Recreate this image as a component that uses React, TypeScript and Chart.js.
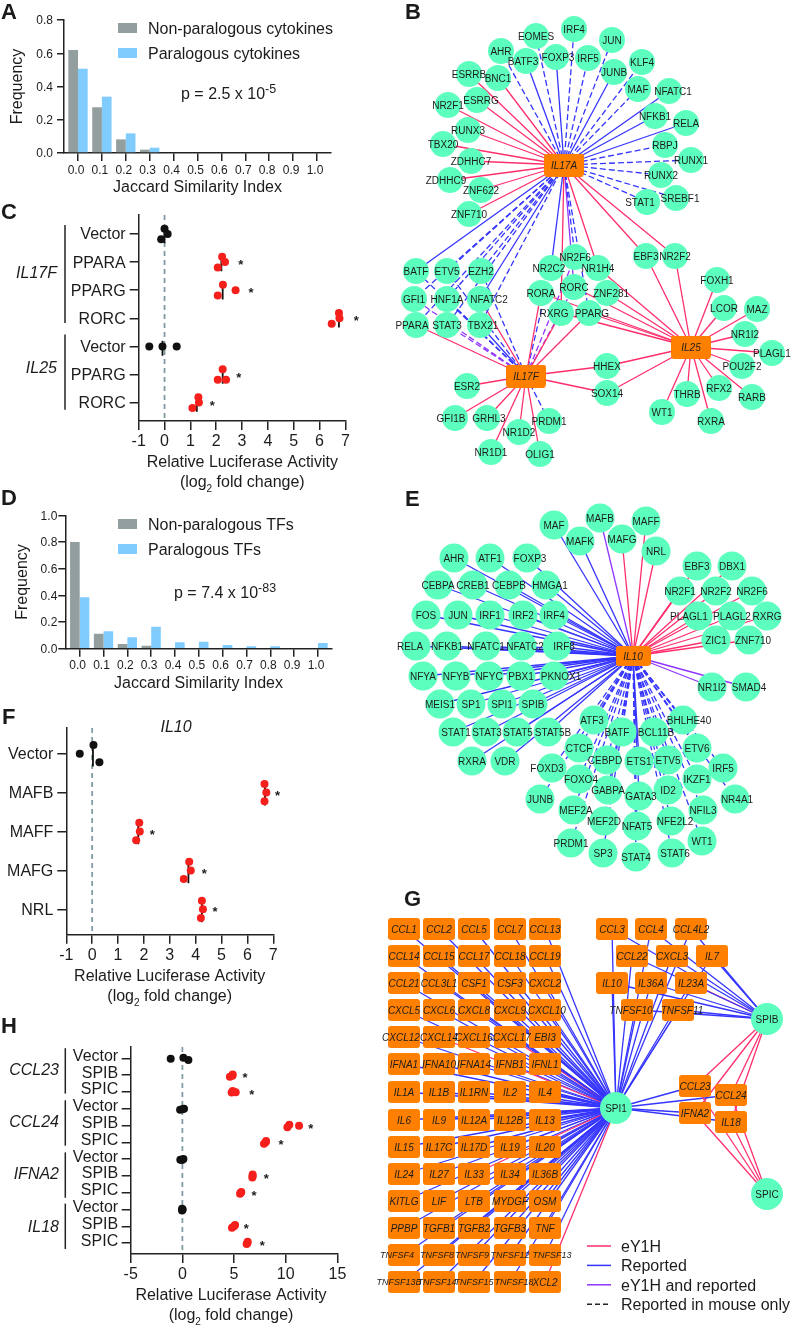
import { useEffect, useRef } from 'react';
import { Chart, registerables } from 'chart.js';

Chart.register(...registerables);

const FONT = '"Liberation Sans", Arial, Helvetica, sans-serif';
const INK = '#1C1C1C';
const AXIS = '#222222';
const GRAY = '#939F9F';
const SKY = '#80CCFF';
const GREEN = '#5CFFBE';
const ORANGE = '#FF8000';
const PINK = '#FF2E6C';
const BLUE = '#3535FF';
const PURPLE = '#9035FF';
const RED = '#F5201C';
const DASHLINE = '#7F9CA3';

Chart.defaults.font.family = FONT;
Chart.defaults.color = INK;

// ---------- histogram data ----------
const jaccardBins = [0, 0.1, 0.2, 0.3, 0.4, 0.5, 0.6, 0.7, 0.8, 0.9, 1.0];
const cytokineNonParalogous = [0.62, 0.275, 0.082, 0.02, 0, 0, 0, 0, 0, 0, 0];
const cytokineParalogous = [0.507, 0.339, 0.118, 0.032, 0, 0, 0, 0, 0, 0, 0];
const tfNonParalogous = [0.8, 0.113, 0.035, 0.022, 0, 0, 0, 0, 0, 0, 0];
const tfParalogous = [0.385, 0.13, 0.085, 0.165, 0.048, 0.053, 0.028, 0.018, 0.018, 0, 0.043];

// ---------- luciferase data ----------
const cRows = ['Vector', 'PPARA', 'PPARG', 'RORC', 'Vector', 'PPARG', 'RORC'];
const cValues = [[0, 0.12, -0.13], [2.23, 2.34, 2.06], [2.26, 2.75, 2.06], [6.75, 6.77, 6.47], [-0.59, -0.08, 0.47], [2.25, 2.38, 2.06], [1.31, 1.33, 1.08]];
const cJitter = [[-0.19, 0, 0.19], [-0.19, 0, 0.19], [-0.19, 0, 0.19], [-0.19, 0, 0.19], [0, 0, 0], [-0.19, 0.19, 0.19], [-0.19, 0, 0.19]];
const cMeans = [0, 2.2, 2.25, 6.75, -0.08, 2.25, 1.25];
const cStarRows = [1, 2, 3, 5, 6];
const cStarX = [2.95, 3.35, 7.42, 2.87, 1.85];

const fRows = ['Vector', 'MAFB', 'MAFF', 'MAFG', 'NRL'];
const fValues = [[-0.48, 0.05, 0.28], [6.66, 6.73, 6.66], [1.82, 1.84, 1.7], [3.75, 3.81, 3.54], [4.24, 4.28, 4.2]];
const fJitter = [[0, -0.223, 0.223], [-0.223, 0, 0.223], [-0.223, 0, 0.223], [-0.223, 0, 0.223], [-0.223, 0, 0.223]];
const fMeans = [0.03, 6.68, 1.78, 3.72, 4.24];
const fStarRows = [1, 2, 3, 4];
const fStarX = [7.16, 2.32, 4.33, 4.75];

const hRows = ['Vector', 'SPIB', 'SPIC', 'Vector', 'SPIB', 'SPIC', 'Vector', 'SPIB', 'SPIC', 'Vector', 'SPIB', 'SPIC'];
const hValues = [[-1.13, 0.1, 0.58], [4.6, 4.87, 4.84], [4.77, 5.16, 4.87], [-0.22, 0.16, 0], [10.16, 10.35, 11.29], [7.9, 8.06, 8.1], [-0.2, 0.1, -0.03], [6.77, 6.8, 6.8], [5.58, 5.65, 5.7], [-0.03, 0.03, -0.03], [4.8, 5, 5.1], [6.22, 6.29, 6.32]];
const hJitter = [[0.02, -0.04, 0.1], [0.1, -0.04, 0.04], [0.04, 0.02, -0.06], [0.06, 0, 0.04], [0.1, -0.04, 0.02], [0.08, 0, -0.08], [0.04, 0, 0.06], [0.1, 0, -0.08], [0.06, 0, -0.04], [0.06, 0, -0.04], [0.08, 0, -0.08], [0.06, 0, -0.08]];
const hStarRows = [1, 2, 4, 5, 7, 8, 10, 11];
const hStarX = [6.06, 6.71, 12.42, 9.55, 8.13, 6.94, 6.19, 7.74];

// ---------- network B ----------
type Node = [string, number, number];
const bTargets: Node[] = [
  ['IRF4', 574, 29], ['EOMES', 536, 36], ['AHR', 501, 51], ['JUN', 612, 40], ['BATF3', 526, 61], ['FOXP3', 556, 57], ['IRF5', 588, 58], ['KLF4', 642, 62], ['JUNB', 614, 72],
  ['ESRRB', 469, 74], ['BNC1', 498, 78], ['MAF', 638, 89], ['NFATC1', 669, 91], ['ESRRG', 477, 100], ['NR2F1', 448, 105], ['NFKB1', 655, 116], ['RELA', 686, 123], ['RUNX3', 468, 130],
  ['RBPJ', 665, 145], ['TBX20', 443, 144], ['ZDHHC7', 471, 161], ['RUNX1', 691, 160], ['RUNX2', 661, 175], ['ZDHHC9', 450, 180], ['ZNF622', 481, 190], ['SREBF1', 676, 198], ['STAT1', 647, 202], ['ZNF710', 469, 214],
  ['BATF', 416, 271], ['ETV5', 447, 271], ['EZH2', 481, 271], ['GFI1', 414, 299], ['HNF1A', 447, 299], ['NFATC2', 480, 299], ['PPARA', 416, 325], ['STAT3', 447, 325], ['TBX21', 480, 325],
  ['NR2F6', 575, 257], ['NR2C2', 551, 268], ['NR1H4', 598, 268], ['RORC', 574, 287], ['RORA', 541, 293], ['ZNF281', 607, 293], ['RXRG', 561, 313], ['PPARG', 589, 313], ['EBF3', 646, 256], ['NR2F2', 675, 256],
  ['FOXH1', 717, 280], ['LCOR', 724, 308], ['MAZ', 757, 309], ['NR1I2', 745, 334], ['PLAGL1', 772, 353], ['POU2F2', 742, 366], ['RARB', 752, 397], ['RFX2', 719, 388], ['THRB', 687, 394], ['WT1', 662, 412], ['RXRA', 711, 421],
  ['HHEX', 607, 366], ['SOX14', 607, 393], ['ESR2', 467, 386], ['GFI1B', 455, 418], ['GRHL3', 487, 418], ['PRDM1', 549, 421], ['NR1D2', 519, 432], ['NR1D1', 491, 452], ['OLIG1', 540, 454],
];
const bHubs: Node[] = [['IL17A', 564, 165], ['IL17F', 526, 376], ['IL25', 691, 347]];
const bLinks: [string, string, string][] = [
  ['IL17A', 'P', 'ESRRB BNC1 ESRRG NR2F1 RUNX3 TBX20 ZDHHC7 ZDHHC9 ZNF622 ZNF710 RXRG NR1H4 EBF3 NR2F2'],
  ['IL17A', 'B', 'BATF3 FOXP3 JUNB NFATC1 NFKB1 RELA BATF NFATC2 NR2C2'],
  ['IL17A', 'D', 'IRF4 EOMES AHR JUN IRF5 KLF4 MAF RBPJ RUNX1 RUNX2 SREBF1 STAT1 ETV5 EZH2 GFI1 HNF1A PPARA STAT3 TBX21 NR2F6 PPARG'],
  ['IL17A', 'V', 'RORC'],
  ['IL17F', 'P', 'PPARA NFATC2 RORA RXRG PPARG HHEX SOX14 ESR2 GFI1B GRHL3 NR1D1 NR1D2 OLIG1'],
  ['IL17F', 'B', 'TBX21'],
  ['IL17F', 'D', 'BATF ETV5 EZH2 HNF1A NR2C2 PRDM1'],
  ['IL17F', 'W', 'GFI1 STAT3 RORC NR2F6'],
  ['IL25', 'P', 'NR1H4 ZNF281 RORC RORA RXRG PPARG EBF3 NR2F2 HHEX SOX14 FOXH1 LCOR MAZ NR1I2 PLAGL1 POU2F2 RARB RFX2 THRB WT1 RXRA'],
];
const bLabelShift: Record<string, number> = { NFATC2: 9, PPARA: -4, ESRRG: 4, BATF3: -3, ZDHHC9: -4, SREBF1: 4, STAT1: -7, NFATC1: 4, FOXP3: 2, NR2C2: -2, RXRG: -7, PPARG: 3, ZNF281: 4, TBX21: 3, GRHL3: 2, GFI1B: -4 };

// ---------- network E ----------
const eTargets: Node[] = [
  ['MAF', 554, 525], ['MAFB', 600, 518], ['MAFF', 646, 521], ['MAFK', 580, 541], ['MAFG', 622, 539], ['NRL', 656, 551], ['EBF3', 697, 566], ['DBX1', 732, 566],
  ['AHR', 454, 558], ['ATF1', 490, 558], ['FOXP3', 527, 558], ['CEBPA', 438, 585], ['CREB1', 473, 585], ['CEBPB', 509, 585], ['HMGA1', 546, 585],
  ['NR2F1', 680, 591], ['NR2F2', 716, 591], ['NR2F6', 752, 591], ['FOS', 426, 615], ['JUN', 458, 615], ['IRF1', 490, 615], ['IRF2', 523, 615], ['IRF4', 554, 615],
  ['PLAGL1', 698, 616], ['PLAGL2', 732, 616], ['RXRG', 767, 616], ['RELA', 416, 646], ['NFKB1', 447, 646], ['NFATC1', 486, 646], ['NFATC2', 522, 646], ['IRF8', 557, 646],
  ['ZIC1', 716, 640], ['ZNF710', 749, 640], ['NFYA', 423, 676], ['NFYB', 456, 676], ['NFYC', 489, 676], ['PBX1', 521, 676], ['PKNOX1', 554, 676], ['NR1I2', 712, 687], ['SMAD4', 746, 687],
  ['MEIS1', 440, 704], ['SP1', 471, 704], ['SPI1', 502, 704], ['SPIB', 533, 704], ['ATF3', 594, 720], ['BHLHE40', 683, 720], ['STAT1', 453, 732], ['STAT3', 486, 732], ['STAT5', 517, 732], ['STAT5B', 548, 732],
  ['BATF', 622, 732], ['BCL11B', 654, 732], ['CTCF', 579, 748], ['ETV6', 697, 748], ['RXRA', 472, 761], ['VDR', 505, 761], ['CEBPD', 607, 760], ['ETS1', 639, 761], ['ETV5', 668, 760],
  ['FOXD3', 552, 768], ['IRF5', 723, 768], ['IKZF1', 697, 779], ['FOXO4', 579, 779], ['GABPA', 608, 790], ['GATA3', 639, 796], ['ID2', 668, 790], ['JUNB', 540, 799], ['NR4A1', 735, 799],
  ['MEF2A', 573, 810], ['NFIL3', 703, 810], ['MEF2D', 604, 821], ['NFE2L2', 671, 821], ['NFAT5', 637, 826], ['WT1', 702, 841], ['PRDM1', 571, 843], ['SP3', 603, 853], ['STAT4', 636, 857], ['STAT6', 672, 853],
];
const eHubs: Node[] = [['IL10', 633, 656]];
const eLinks: [string, string, string][] = [
  ['IL10', 'P', 'MAFG MAFF NRL EBF3 DBX1 NR2F1 NR2F2 NR2F6 PLAGL1 PLAGL2 RXRG ZIC1 ZNF710'],
  ['IL10', 'V', 'MAFB NR1I2 SMAD4'],
  ['IL10', 'B', 'MAF MAFK AHR ATF1 FOXP3 CEBPA CREB1 CEBPB HMGA1 FOS JUN IRF1 IRF2 IRF4 RELA NFKB1 NFATC1 NFATC2 IRF8 NFYA NFYB NFYC PBX1 PKNOX1 MEIS1 SP1 SPI1 SPIB STAT1 STAT3 STAT5 STAT5B RXRA VDR ETS1 GATA3'],
  ['IL10', 'D', 'ATF3 BATF BCL11B BHLHE40 CTCF CEBPD ETV5 ETV6 FOXD3 IRF5 IKZF1 FOXO4 GABPA ID2 JUNB NR4A1 MEF2A NFIL3 MEF2D NFE2L2 NFAT5 WT1 PRDM1 SP3 STAT4 STAT6'],
];
const eLabelShift: Record<string, number> = { BHLHE40: 6, PLAGL1: -9, FOXP3: 3, HMGA1: 4, RELA: -6, NFATC2: 3, IRF8: 7, PKNOX1: 7, ZNF710: 4, SMAD4: 3, STAT1: 3, STAT3: 1, STAT5: 1, STAT5B: 5, BCL11B: 2, BATF: -5, CEBPD: -2, FOXD3: -5, FOXO4: 2, MEF2A: 3, NFE2L2: 4, GATA3: 2, STAT6: 3, ATF3: -2, NR4A1: 2 };

// ---------- network G ----------
const gGridColumns = [404, 439, 474, 510, 545];
const gGridRows = [929, 956, 983, 1010, 1037, 1064, 1092, 1120, 1147, 1174, 1201, 1228, 1255, 1282];
const gGridNames = [
  ['CCL1', 'CCL2', 'CCL5', 'CCL7', 'CCL13'],
  ['CCL14', 'CCL15', 'CCL17', 'CCL18', 'CCL19'],
  ['CCL21', 'CCL3L1', 'CSF1', 'CSF3', 'CXCL2'],
  ['CXCL5', 'CXCL6', 'CXCL8', 'CXCL9', 'CXCL10'],
  ['CXCL12', 'CXCL14', 'CXCL16', 'CXCL17', 'EBI3'],
  ['IFNA1', 'IFNA10', 'IFNA14', 'IFNB1', 'IFNL1'],
  ['IL1A', 'IL1B', 'IL1RN', 'IL2', 'IL4'],
  ['IL6', 'IL9', 'IL12A', 'IL12B', 'IL13'],
  ['IL15', 'IL17C', 'IL17D', 'IL19', 'IL20'],
  ['IL24', 'IL27', 'IL33', 'IL34', 'IL36B'],
  ['KITLG', 'LIF', 'LTB', 'MYDGF', 'OSM'],
  ['PPBP', 'TGFB1', 'TGFB2', 'TGFB3', 'TNF'],
  ['TNFSF4', 'TNFSF8', 'TNFSF9', 'TNFSF12', 'TNFSF13'],
  ['TNFSF13B', 'TNFSF14', 'TNFSF15', 'TNFSF18', 'XCL2'],
];
const gPinkToSpi1 = ['CXCL14', 'CXCL17', 'IL33', 'XCL2'];
const gUpper: Node[] = [
  ['CCL3', 612, 929], ['CCL4', 651, 929], ['CCL4L2', 691, 929], ['CCL22', 632, 956], ['CXCL3', 672, 956], ['IL7', 712, 956],
  ['IL10', 612, 983], ['IL36A', 651, 983], ['IL23A', 691, 983], ['TNFSF10', 637, 1010], ['TNFSF11', 678, 1010],
];
const gLower: Node[] = [['CCL23', 695, 1086], ['CCL24', 731, 1095], ['IFNA2', 695, 1113], ['IL18', 731, 1122]];
const gFactors: Node[] = [['SPI1', 616, 1108], ['SPIB', 767, 1019], ['SPIC', 767, 1194]];
const gLabelShift: Record<string, number> = { TNFSF4: -7, TNFSF8: -2, TNFSF9: -2, TNFSF13: 7, TNFSF13B: -5, TNFSF14: -2, TNFSF18: 4, CXCL12: -3, CXCL17: 2, CXCL10: 2, TNFSF10: -6, TNFSF11: 4 };

// ---------- legends and captions ----------
const networkLegend: [string, string, number[]][] = [
  ['eY1H', PINK, []],
  ['Reported', BLUE, []],
  ['eY1H and reported', PURPLE, []],
  ['Reported in mouse only', '#222222', [5, 3]],
];
const panelLetters: [string, number, number][] = [['A', 1, 11], ['B', 405, 11], ['C', 1, 211], ['D', 1, 497], ['E', 405, 498], ['F', 2, 716], ['G', 404, 898], ['H', 1, 1025]];

const edgeStyle: Record<string, { color: string; dash: number[] }> = {
  P: { color: PINK, dash: [] },
  B: { color: BLUE, dash: [] },
  D: { color: BLUE, dash: [6, 3] },
  V: { color: PURPLE, dash: [] },
  W: { color: PURPLE, dash: [6, 3] },
};

function text(ctx: CanvasRenderingContext2D, s: string, x: number, y: number, font: string, align: CanvasTextAlign = 'left', color = INK) {
  const m = /([\d.]+)px/.exec(font);
  const size = m ? parseFloat(m[1]) : 16;
  ctx.font = font;
  ctx.textAlign = align;
  ctx.textBaseline = 'alphabetic';
  ctx.fillStyle = color;
  ctx.fillText(s, x, y + 0.358 * size);
}

function histogramConfig(o: any) {
  const { canvasW, canvasH, left, top, right, bottom, yMax, yStep, yPad, titleY, freqX } = o;
  const yVals: number[] = [];
  for (let v = 0; v <= yMax + 1e-9; v += yStep) yVals.push(Math.round(v * 10) / 10);
  const unit = o.tick10 - o.tick0;
  const xMin = (left - o.tick0) / unit;
  const xMax = (right - o.tick0) / unit;
  return {
    type: 'bar',
    data: {
      datasets: [
        { label: o.names[0], data: jaccardBins.map((x, i) => ({ x, y: o.gray[i] })), backgroundColor: GRAY, categoryPercentage: 0.81, barPercentage: 1 },
        { label: o.names[1], data: jaccardBins.map((x, i) => ({ x, y: o.sky[i] })), backgroundColor: SKY, categoryPercentage: 0.81, barPercentage: 1 },
      ],
    },
    options: {
      responsive: false,
      animation: false,
      events: [],
      layout: { autoPadding: false, padding: { left: 0, top, right: canvasW - right, bottom: 0 } },
      plugins: { legend: { display: false }, tooltip: { enabled: false } },
      scales: {
        x: {
          type: 'linear', offset: false, min: xMin, max: xMax,
          afterBuildTicks: (s: any) => { s.ticks = jaccardBins.map((value) => ({ value })); },
          afterFit: (s: any) => { s.height = canvasH - bottom; },
          ticks: { autoSkip: false, maxRotation: 0, minRotation: 0, padding: 2, labelOffset: -2, color: INK, font: { size: 12 }, callback: (v: number) => v.toFixed(1) },
          grid: { display: true, offset: false, drawOnChartArea: false, drawTicks: true, tickLength: 8, color: AXIS, lineWidth: 1.5 },
          border: { color: AXIS, width: 1.5 },
          title: { display: true, text: 'Jaccard Similarity Index', color: INK, font: { size: 16 }, padding: { top: 0, bottom: canvasH - 9.6 - titleY } },
        },
        y: {
          min: 0, max: yMax,
          afterBuildTicks: (s: any) => { s.ticks = yVals.map((value) => ({ value })); },
          afterFit: (s: any) => { s.width = left; },
          ticks: { padding: yPad, labelOffset: 1, color: INK, font: { size: 12 }, callback: (v: number) => v.toFixed(1) },
          grid: { display: true, drawOnChartArea: false, drawTicks: true, tickLength: 7, color: AXIS, lineWidth: 1.5 },
          border: { color: AXIS, width: 1.5 },
          title: { display: true, text: 'Frequency', color: INK, font: { size: 16 }, padding: { top: freqX - 9.6, bottom: 0 } },
        },
      },
    },
    plugins: [{
      id: 'histNotes',
      afterDraw(chart: any) {
        const { ctx } = chart;
        ctx.save();
        o.names.forEach((name: string, i: number) => {
          const y = o.legendY[i];
          ctx.fillStyle = i === 0 ? GRAY : SKY;
          ctx.fillRect(118, y - 5, 19, 10);
          text(ctx, name, 148, y, `16px ${FONT}`);
        });
        text(ctx, o.pText, o.pX, o.pY, `16px ${FONT}`);
        const w = ctx.measureText(o.pText).width;
        text(ctx, o.pSup, o.pX + w, o.pY - 4, `12.5px ${FONT}`);
        ctx.restore();
      },
    }],
  };
}

function swarmConfig(o: any) {
  const { canvasW, canvasH, left, right, top, bottom, row0, rowStep, xMin, xMax, xStep, rows, values, jitter, means, starRows, starX } = o;
  const xTicks: number[] = [];
  for (let v = xMin; v <= xMax; v += xStep) xTicks.push(v);
  const yMin = (top - row0) / rowStep;
  const yMax = (bottom - row0) / rowStep;
  const datasets: any[] = [];
  rows.forEach((name: string, i: number) => {
    datasets.push({
      label: name,
      data: values[i].map((x: number, k: number) => ({ x, y: i + jitter[i][k] })),
      pointRadius: o.radius,
      pointBackgroundColor: name === 'Vector' ? '#111111' : RED,
      pointBorderWidth: 0,
      showLine: false,
      order: 0,
    });
  });
  if (means) {
    means.forEach((m: number, i: number) => {
      datasets.push({ data: [{ x: m, y: i - 0.2 }, { x: m, y: i + 0.33 }], showLine: true, pointRadius: 0, borderColor: '#111111', borderWidth: 1.8, order: 1 });
    });
  }
  datasets.push({ data: [{ x: 0, y: yMin }, { x: 0, y: yMax }], showLine: true, pointRadius: 0, borderColor: DASHLINE, borderWidth: 1.8, borderDash: [5, 4], order: 2 });
  return {
    type: 'scatter',
    data: { datasets },
    options: {
      responsive: false,
      animation: false,
      events: [],
      layout: { autoPadding: false, padding: { left: 0, top, right: canvasW - right, bottom: 0 } },
      plugins: { legend: { display: false }, tooltip: { enabled: false } },
      scales: {
        x: {
          type: 'linear', min: xMin, max: xMax,
          afterBuildTicks: (s: any) => { s.ticks = xTicks.map((value) => ({ value })); },
          afterFit: (s: any) => { s.height = canvasH - bottom; },
          ticks: { autoSkip: false, maxRotation: 0, minRotation: 0, padding: 2, color: INK, font: { size: 16 }, callback: (v: number) => String(v) },
          grid: { display: true, drawOnChartArea: false, drawTicks: true, tickLength: 9, color: AXIS, lineWidth: 1.5 },
          border: { color: AXIS, width: 1.5 },
        },
        y: {
          type: 'linear', reverse: true, min: yMin, max: yMax,
          afterBuildTicks: (s: any) => { s.ticks = rows.map((_: string, value: number) => ({ value })); },
          afterFit: (s: any) => { s.width = left; },
          ticks: { autoSkip: false, padding: o.yPad, labelOffset: o.labelOffset, color: INK, font: { size: 16 }, callback: (v: number) => rows[v] },
          grid: { display: true, drawOnChartArea: false, drawTicks: true, tickLength: 9, color: AXIS, lineWidth: 1.5 },
          border: { color: AXIS, width: 1.5 },
        },
      },
    },
    plugins: [{
      id: 'swarmNotes',
      afterDraw(chart: any) {
        const { ctx } = chart;
        const xs = chart.scales.x;
        const ys = chart.scales.y;
        ctx.save();
        starRows.forEach((r: number, i: number) => {
          text(ctx, '*', xs.getPixelForValue(starX[i]), ys.getPixelForValue(r) + 2.5, `bold 13px ${FONT}`, 'center');
        });
        (o.groups || []).forEach((g: any) => {
          const a = ys.getPixelForValue(g.from);
          const b = ys.getPixelForValue(g.to);
          ctx.strokeStyle = AXIS;
          ctx.lineWidth = 1.5;
          ctx.beginPath();
          ctx.moveTo(o.bracketX, a);
          ctx.lineTo(o.bracketX, b);
          ctx.stroke();
          text(ctx, g.label, o.groupRight, ys.getPixelForValue(g.labelRow), `italic 16px ${FONT}`, 'right');
        });
        if (o.heading) text(ctx, o.heading[0], o.heading[1], o.heading[2], `italic 16px ${FONT}`, 'center');
        const [cx, y1, y2] = o.title;
        text(ctx, 'Relative Luciferase Activity', cx, y1, `16px ${FONT}`, 'center');
        ctx.font = `16px ${FONT}`;
        const w1 = ctx.measureText('(log').width;
        const w3 = ctx.measureText(' fold change)').width;
        ctx.font = `10px ${FONT}`;
        const w2 = ctx.measureText('2').width;
        const sx = cx - (w1 + w2 + w3) / 2;
        text(ctx, '(log', sx, y2, `16px ${FONT}`);
        text(ctx, '2', sx + w1, y2 + 7, `10px ${FONT}`);
        text(ctx, ' fold change)', sx + w1 + w2, y2, `16px ${FONT}`);
        ctx.restore();
      },
    }],
  };
}

function boxImage(w: number, h: number) {
  const c = document.createElement('canvas');
  c.width = w;
  c.height = h;
  const ctx = c.getContext('2d') as CanvasRenderingContext2D;
  ctx.fillStyle = ORANGE;
  ctx.beginPath();
  ctx.roundRect(0, 0, w, h, 3);
  ctx.fill();
  return c;
}

function edge(a: Node, b: Node, kind: string) {
  const st = edgeStyle[kind];
  return {
    data: [{ x: a[1], y: a[2] }, { x: b[1], y: b[2] }],
    showLine: true,
    pointRadius: 0,
    borderColor: st.color,
    borderDash: st.dash,
    borderWidth: 1.3,
    order: 3,
  };
}

function linkDatasets(hubs: Node[], targets: Node[], links: [string, string, string][]) {
  const out: any[] = [];
  links.forEach(([hub, kind, names]) => {
    const h = hubs.find((n) => n[0] === hub) as Node;
    names.split(' ').forEach((name) => {
      const t = targets.find((n) => n[0] === name) as Node;
      out.push(edge(h, t, kind));
    });
  });
  return out;
}

function nodeDataset(nodes: Node[], radius: number) {
  return { data: nodes.map((n) => ({ x: n[1], y: n[2] })), pointRadius: radius, pointBackgroundColor: GREEN, pointBorderWidth: 0, showLine: false, order: 1 };
}

function boxDataset(nodes: Node[], w: number, h: number) {
  return { data: nodes.map((n) => ({ x: n[1], y: n[2] })), pointRadius: 10, pointStyle: boxImage(w, h), pointBorderWidth: 0, showLine: false, order: 1 };
}

function networkConfig() {
  const gGrid: Node[] = [];
  gGridNames.forEach((row, r) => row.forEach((name, c) => gGrid.push([name, gGridColumns[c], gGridRows[r]])));
  const [spi1, spib, spic] = gFactors;
  const gEdges: any[] = [];
  gGrid.forEach((n) => gEdges.push(edge(n, spi1, gPinkToSpi1.includes(n[0]) ? 'P' : 'B')));
  gUpper.forEach((n) => {
    gEdges.push(edge(n, spi1, 'B'));
    gEdges.push(edge(n, spib, n[0] === 'IL23A' ? 'P' : 'B'));
  });
  gLower.forEach((n) => {
    gEdges.push(edge(n, spi1, 'B'));
    gEdges.push(edge(n, spib, 'P'));
    gEdges.push(edge(n, spic, 'P'));
  });
  const datasets = [
    ...linkDatasets(bHubs, bTargets, bLinks),
    ...linkDatasets(eHubs, eTargets, eLinks),
    ...gEdges,
    nodeDataset(bTargets, 13),
    nodeDataset(eTargets, 14.5),
    nodeDataset(gFactors, 16),
    boxDataset(bHubs, 40, 23),
    boxDataset(eHubs, 35, 20),
    boxDataset(gGrid, 32, 22),
    boxDataset(gUpper, 32, 22),
    boxDataset(gLower, 32, 22),
  ];
  return {
    type: 'scatter',
    data: { datasets },
    options: {
      responsive: false,
      animation: false,
      events: [],
      layout: { autoPadding: false, padding: 0 },
      plugins: { legend: { display: false }, tooltip: { enabled: false } },
      scales: {
        x: { type: 'linear', min: 0, max: 796, display: false },
        y: { type: 'linear', min: 0, max: 1325, reverse: true, display: false },
      },
    },
    plugins: [{
      id: 'networkLabels',
      afterDraw(chart: any) {
        const { ctx } = chart;
        const xs = chart.scales.x;
        const ys = chart.scales.y;
        const put = (nodes: Node[], font: (n: string) => string, shift: Record<string, number> = {}) => nodes.forEach((n) => {
          text(ctx, n[0], xs.getPixelForValue(n[1]) + (shift[n[0]] || 0), ys.getPixelForValue(n[2]), font(n[0]), 'center');
        });
        ctx.save();
        const plain = () => `10px ${FONT}`;
        const italic = () => `italic 10px ${FONT}`;
        put(bTargets, plain, bLabelShift);
        put(eTargets, plain, eLabelShift);
        put(gFactors, plain);
        put(bHubs, italic);
        put(eHubs, italic);
        put(gGrid, (n) => (n.startsWith('TNFSF') ? `italic 9px ${FONT}` : `italic 10px ${FONT}`), gLabelShift);
        put(gUpper, italic, gLabelShift);
        put(gLower, italic);
        networkLegend.forEach(([label, color, dash], i) => {
          const y = 1246 + i * 19.4;
          ctx.strokeStyle = color;
          ctx.lineWidth = 1.5;
          ctx.setLineDash(dash);
          ctx.beginPath();
          ctx.moveTo(587, y);
          ctx.lineTo(611, y);
          ctx.stroke();
          ctx.setLineDash([]);
          text(ctx, label, 621, y, `16px ${FONT}`);
        });
        panelLetters.forEach(([l, x, y]) => text(ctx, l, x, y, `bold 22px ${FONT}`, 'left', '#1A1A1A'));
        ctx.restore();
      },
    }],
  };
}

function Panel({ x, y, w, h, build }: { x: number; y: number; w: number; h: number; build: () => any }) {
  const ref = useRef<HTMLCanvasElement>(null);
  useEffect(() => {
    const chart = new Chart(ref.current as HTMLCanvasElement, build());
    return () => chart.destroy();
  }, []);
  return <canvas ref={ref} width={w} height={h} style={{ position: 'absolute', left: x, top: y, display: 'block' }} />;
}

export default function App() {
  return (
    <div style={{ position: 'absolute', left: 0, top: 0, width: 796, height: 1325, background: '#fff', overflow: 'hidden', filter: 'blur(0.35px)' }}>
      <Panel x={0} y={0} w={796} h={1325} build={networkConfig} />
      <Panel x={0} y={0} w={380} h={200} build={() => histogramConfig({
        canvasW: 380, canvasH: 200, left: 64, top: 20, right: 331, bottom: 153, tick0: 78, tick10: 317, yMax: 0.8, yStep: 0.2, yPad: 4, titleY: 188, freqX: 17.3,
        names: ['Non-paralogous cytokines', 'Paralogous cytokines'], gray: cytokineNonParalogous, sky: cytokineParalogous, legendY: [28, 53],
        pText: 'p = 2.5 x 10', pSup: '-5', pX: 181, pY: 93,
      })} />
      <Panel x={0} y={200} w={380} h={295} build={() => swarmConfig({
        canvasW: 380, canvasH: 295, left: 138.7, right: 345.4, top: 15, bottom: 221, row0: 34, rowStep: 28.1, xMin: -1, xMax: 7, xStep: 1, radius: 4,
        rows: cRows, values: cValues, jitter: cJitter, means: cMeans, starRows: cStarRows, starX: cStarX, yPad: 4, labelOffset: 1,
        bracketX: 65, groupRight: 57,
        groups: [{ label: 'IL17F', from: -0.32, to: 3.17, labelRow: 1.35 }, { label: 'IL25', from: 3.58, to: 6.25, labelRow: 4.75 }],
        title: [242.3, 261.7, 281.7],
      })} />
      <Panel x={0} y={500} w={380} h={205} build={() => histogramConfig({
        canvasW: 380, canvasH: 205, left: 65.3, top: 15.3, right: 331.7, bottom: 148.7, tick0: 79.7, tick10: 318, yMax: 1.0, yStep: 0.2, yPad: 1, titleY: 184, freqX: 22.7,
        names: ['Non-paralogous TFs', 'Paralogous TFs'], gray: tfNonParalogous, sky: tfParalogous, legendY: [24, 49],
        pText: 'p = 7.4 x 10', pSup: '-83', pX: 174, pY: 92,
      })} />
      <Panel x={0} y={705} w={380} h={305} build={() => swarmConfig({
        canvasW: 380, canvasH: 305, left: 66.3, right: 273.3, top: 23, bottom: 229.7, row0: 48.7, rowStep: 38.9, xMin: -1, xMax: 7, xStep: 1, radius: 4,
        rows: fRows, values: fValues, jitter: fJitter, means: fMeans, starRows: fStarRows, starX: fStarX, yPad: 4, labelOffset: 1,
        heading: ['IL10', 176, 21.7],
        title: [169.7, 270, 290.7],
      })} />
      <Panel x={0} y={1010} w={380} h={315} build={() => swarmConfig({
        canvasW: 380, canvasH: 315, left: 130.7, right: 337.4, top: 37, bottom: 244, row0: 48.3, rowStep: 16.8, xMin: -5, xMax: 15, xStep: 5, radius: 4,
        rows: hRows, values: hValues, jitter: hJitter, starRows: hStarRows, starX: hStarX, yPad: 3.5, labelOffset: -2,
        bracketX: 65.3, groupRight: 59,
        groups: [
          { label: 'CCL23', from: -0.6, to: 2.1, labelRow: 0.65 },
          { label: 'CCL24', from: 2.5, to: 5.2, labelRow: 3.75 },
          { label: 'IFNA2', from: 5.6, to: 8.3, labelRow: 6.85 },
          { label: 'IL18', from: 8.65, to: 11.35, labelRow: 10 },
        ],
        title: [231, 284.3, 304],
      })} />
    </div>
  );
}
